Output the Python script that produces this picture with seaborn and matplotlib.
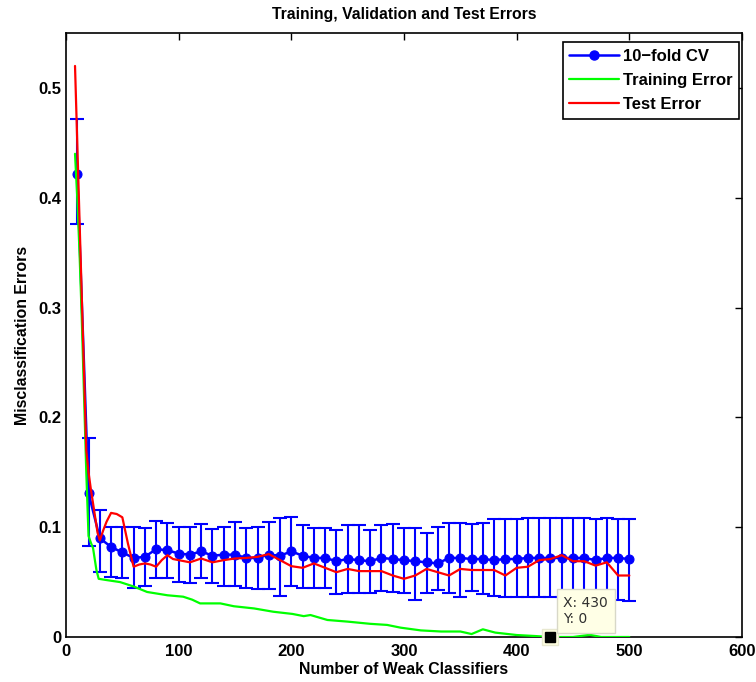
import numpy as np
import pandas as pd
import matplotlib
matplotlib.use("Agg")
import matplotlib.pyplot as plt
import seaborn as sns
from matplotlib.lines import Line2D

# ---------------- data ----------------
cv_x = list(range(10, 501, 10))
cv_mean = [0.422, 0.131, 0.090, 0.082, 0.077, 0.072, 0.073, 0.080, 0.079, 0.076,
           0.075, 0.078, 0.074, 0.075, 0.075, 0.072, 0.072, 0.075, 0.074, 0.078,
           0.074, 0.072, 0.072, 0.069, 0.071, 0.070, 0.069, 0.072, 0.071, 0.070,
           0.069, 0.068, 0.067, 0.072, 0.072, 0.071, 0.071, 0.070, 0.071, 0.071,
           0.072, 0.072, 0.072, 0.072, 0.072, 0.072, 0.070, 0.072, 0.072, 0.071]
cv_upper = [0.472, 0.181, 0.116, 0.100, 0.100, 0.100, 0.099, 0.106, 0.104, 0.100,
            0.100, 0.103, 0.098, 0.100, 0.105, 0.099, 0.100, 0.105, 0.108, 0.109,
            0.102, 0.099, 0.099, 0.097, 0.102, 0.102, 0.097, 0.102, 0.103, 0.099,
            0.099, 0.095, 0.100, 0.104, 0.104, 0.103, 0.104, 0.107, 0.107, 0.107,
            0.108, 0.108, 0.108, 0.108, 0.108, 0.108, 0.107, 0.108, 0.107, 0.107]
cv_lower = [0.376, 0.083, 0.059, 0.055, 0.054, 0.045, 0.046, 0.054, 0.054, 0.050,
            0.049, 0.054, 0.049, 0.046, 0.046, 0.045, 0.044, 0.044, 0.037, 0.046,
            0.045, 0.045, 0.045, 0.039, 0.040, 0.040, 0.040, 0.042, 0.041, 0.040,
            0.034, 0.040, 0.043, 0.040, 0.036, 0.042, 0.039, 0.037, 0.036, 0.036,
            0.036, 0.036, 0.036, 0.036, 0.036, 0.036, 0.035, 0.035, 0.034, 0.033]

train_x = [8, 10, 12, 14, 16, 18, 20, 22, 24, 27, 29, 35, 48, 60, 72, 90, 104, 112,
           119, 137, 149, 167, 184, 201, 211, 217, 232, 250, 270, 285, 297, 315,
           333, 350, 360, 370, 381, 400, 416, 430, 450, 465, 470, 475, 500]
train_err = [0.44, 0.40, 0.35, 0.29, 0.22, 0.15, 0.092, 0.086, 0.081, 0.061, 0.053,
             0.052, 0.050, 0.046, 0.041, 0.038, 0.0367, 0.034, 0.0306, 0.0306,
             0.028, 0.026, 0.023, 0.021, 0.019, 0.020, 0.0155, 0.014, 0.012, 0.011,
             0.0085, 0.006, 0.005, 0.005, 0.0027, 0.007, 0.004, 0.0018, 0.0009,
             0.0, 0.0, 0.002, 0.001, 0.0, 0.0]

test_x = [8, 10, 12, 14, 16, 18, 20, 22, 25, 28, 30, 33, 36, 40, 45, 50, 55, 60, 65,
          70, 75, 80, 85, 90, 95, 100, 110, 120, 130, 140, 150, 160, 170, 180, 190,
          200, 210, 220, 230, 240, 250, 260, 270, 280, 290, 300, 310, 320, 330, 340,
          350, 360, 370, 380, 390, 400, 410, 420, 430, 440, 450, 460, 470, 480, 490,
          500]
test_err = [0.52, 0.45, 0.38, 0.31, 0.24, 0.17, 0.15, 0.135, 0.115, 0.095, 0.088,
            0.097, 0.105, 0.113, 0.112, 0.109, 0.085, 0.064, 0.066, 0.067, 0.066,
            0.064, 0.070, 0.0745, 0.071, 0.070, 0.068, 0.0715, 0.068, 0.070, 0.0715,
            0.072, 0.073, 0.0755, 0.070, 0.0645, 0.063, 0.067, 0.063, 0.059, 0.062,
            0.060, 0.060, 0.060, 0.056, 0.053, 0.056, 0.062, 0.059, 0.056, 0.062,
            0.061, 0.061, 0.061, 0.056, 0.063, 0.064, 0.070, 0.071, 0.0745, 0.069,
            0.069, 0.065, 0.068, 0.056, 0.056]

x_ticks = [0, 100, 200, 300, 400, 500, 600]
y_ticks = [0, 0.1, 0.2, 0.3, 0.4, 0.5]
y_tick_labels = ["0", "0.1", "0.2", "0.3", "0.4", "0.5"]
legend_labels = ["10\u2212fold CV", "Training Error", "Test Error"]
tip_x, tip_y = 430, 0

# ---------------- style ----------------
sns.set_style("white")
plt.rcParams["font.family"] = ["Liberation Sans", "DejaVu Sans"]
plt.rcParams["font.weight"] = "bold"
plt.rcParams["text.color"] = "black"
plt.rcParams["axes.labelcolor"] = "black"
plt.rcParams["xtick.color"] = "black"
plt.rcParams["ytick.color"] = "black"

fig = plt.figure(figsize=(7.56, 6.82), dpi=100)
ax = fig.add_axes([66 / 756, 1 - 637 / 682, (742 - 66) / 756, (637 - 33) / 682])

cv_df = pd.DataFrame({"x": cv_x, "mean": cv_mean, "lo": cv_lower, "hi": cv_upper})
tr_df = pd.DataFrame({"x": train_x, "err": train_err})
te_df = pd.DataFrame({"x": test_x, "err": test_err})

BLUE, GREEN, RED = "#0000ff", "#00ff00", "#ff0000"

ax.errorbar(cv_df["x"], cv_df["mean"],
            yerr=[cv_df["mean"] - cv_df["lo"], cv_df["hi"] - cv_df["mean"]],
            fmt="none", ecolor=BLUE, elinewidth=1.5, capsize=5, capthick=1.5,
            zorder=2)
sns.lineplot(data=cv_df, x="x", y="mean", ax=ax, color=BLUE, lw=1.8,
             marker="o", markersize=6.5, markeredgecolor=BLUE, markerfacecolor=BLUE,
             zorder=3)
sns.lineplot(data=tr_df, x="x", y="err", ax=ax, color=GREEN, lw=1.6, zorder=4)
sns.lineplot(data=te_df, x="x", y="err", ax=ax, color=RED, lw=1.6, zorder=5)

# datatip
ax.plot([tip_x], [tip_y], marker="s", ms=12, color="#ffffe1", mec="#e8e8d0",
        zorder=6, clip_on=False)
ax.plot([tip_x], [tip_y], marker="s", ms=7, color="black", zorder=7, clip_on=False)
ax.annotate(f"X: {tip_x}\nY: {tip_y}", xy=(tip_x, tip_y), xycoords="data",
            xytext=(13, 11), textcoords="offset pixels", ha="left", va="bottom",
            fontsize=10, fontweight="normal", color="#303030", linespacing=1.15,
            family=["DejaVu Sans"],
            bbox=dict(boxstyle="square,pad=0.5", fc="#ffffe6", ec="#d8d8c8", lw=1),
            zorder=8)

ax.set_xlim(0, 600)
ax.set_ylim(0, 0.55)
ax.set_xticks(x_ticks)
ax.set_xticklabels([str(t) for t in x_ticks])
ax.set_yticks(y_ticks)
ax.set_yticklabels(y_tick_labels)
ax.tick_params(direction="in", length=5, width=1, top=True, right=True,
               labelsize=12, colors="black")
ax.tick_params(axis="x", pad=5)
ax.tick_params(axis="y", pad=3)
for s in ax.spines.values():
    s.set_visible(True)
    s.set_color("black")
    s.set_linewidth(1.2)

ax.set_xlabel("Number of Weak Classifiers", fontsize=11.4, fontweight="bold",
              labelpad=2, color="black")
ax.set_ylabel("Misclassification Errors", fontsize=11.4, fontweight="bold",
              labelpad=6, color="black")
ax.set_title("Training, Validation and Test Errors", fontsize=11.3,
             fontweight="bold", pad=10, color="black")

h = [Line2D([], [], color=BLUE, lw=1.8, marker="o", ms=6.5),
     Line2D([], [], color=GREEN, lw=1.6),
     Line2D([], [], color=RED, lw=1.6)]
leg = ax.legend(h, legend_labels, loc="upper right",
                bbox_to_anchor=(739 / 756, 1 - 42 / 682),
                bbox_transform=fig.transFigure, borderaxespad=0,
                fontsize=12, handlelength=3.0, handletextpad=0.2,
                labelspacing=0.55, borderpad=0.4, fancybox=False,
                framealpha=1, edgecolor="black")
leg.get_frame().set_linewidth(1.2)
for t in leg.get_texts():
    t.set_color("black")

fig.savefig("out.png", dpi=100)
